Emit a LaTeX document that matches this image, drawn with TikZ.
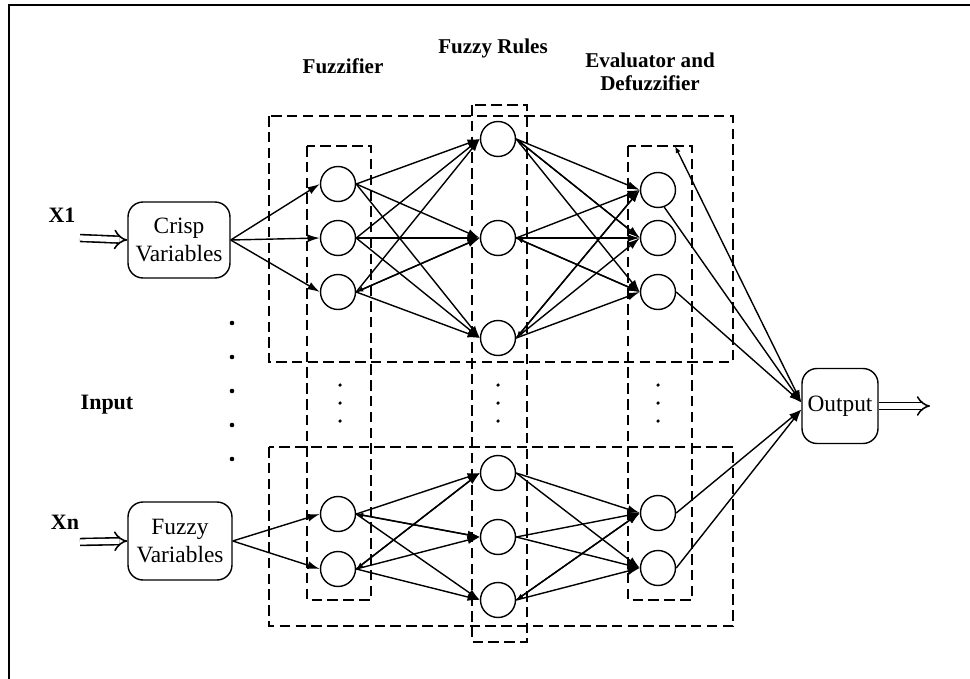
\documentclass[tikz,border=0pt]{standalone}
\usepackage{fontspec}
\setmainfont{Liberation Serif}
\usetikzlibrary{arrows.meta}
\begin{document}
\begin{tikzpicture}[x=0.02cm,y=-0.02cm]
	% Styles du réseau
	\tikzset{
		neurone/.style={circle, draw, line width=0.8pt, minimum size=0.7cm, inner sep=0pt},
		boite/.style={draw, line width=0.8pt, rounded corners=0.3cm, align=center, inner sep=0pt, font=\fontsize{13.3}{16}\selectfont},
		couche/.style={line width=1pt, dash pattern=on 6pt off 3pt},
		lien/.style={line width=0.8pt, -{Latex[length=7pt,width=4.5pt]}},
		lien2/.style={line width=0.8pt, {Latex[length=4pt,width=3pt]}-{Latex[length=7pt,width=4.5pt]}},
		entree/.style={double, double distance=3pt, line width=0.9pt, -{Implies}},
		titre/.style={align=center, font=\fontsize{12}{13}\selectfont\bfseries},
		etiq/.style={font=\fontsize{12.5}{15}\selectfont\bfseries}
	}
	\useasboundingbox (0,0) rectangle (970,679);
	\draw[line width=1.5pt] (9,679) -- (9,5) -- (970,5);
	% Couches en pointillés
	\draw[couche] (269,116) rectangle (733,362);
	\draw[couche] (269,447) rectangle (733,626);
	\draw[couche] (307,146) rectangle (371,600);
	\draw[couche] (472,105) rectangle (527,642);
	\draw[couche] (628,146) rectangle (692,600);
	% Titres
	\node[titre] (tfuzz) at (343,66) {Fuzzifier};
	\node[titre] (trules) at (493,48) {Fuzzy Rules};
	\node[titre] (teval) at (650,72) {Evaluator and\\Defuzzifier};
	% Entrées et sortie
	\node[boite, minimum width=2.04cm, minimum height=1.52cm] (crisp) at (179,240) {Crisp\\Variables};
	\node[boite, minimum width=2.08cm, minimum height=1.56cm] (fuzzy) at (180,541) {Fuzzy\\Variables};
	\node[boite, minimum width=1.52cm, minimum height=1.5cm] (sortie) at (840,406) {Output};
	\node[etiq] (lx1) at (62,215) {X1};
	\node[etiq] (lxn) at (65,522) {Xn};
	\node[etiq] (input) at (107,405) {Input};
	\coordinate (x1) at (80,238);
	\coordinate (xn) at (80,542);
	\coordinate (fin) at (930,406);
	\coordinate (haut) at (675,146);
	% Neurones
	\node[neurone] (f1) at (338,184) {};
	\node[neurone] (f2) at (338,238) {};
	\node[neurone] (f3) at (338,292) {};
	\node[neurone] (f4) at (338,514) {};
	\node[neurone] (f5) at (338,569) {};
	\node[neurone] (r1) at (498,139) {};
	\node[neurone] (r2) at (498,238) {};
	\node[neurone] (r3) at (498,338) {};
	\node[neurone] (r4) at (498,473) {};
	\node[neurone] (r5) at (498,537) {};
	\node[neurone] (r6) at (498,600) {};
	\node[neurone] (e1) at (658,190) {};
	\node[neurone] (e2) at (658,238) {};
	\node[neurone] (e3) at (658,292) {};
	\node[neurone] (e4) at (658,513) {};
	\node[neurone] (e5) at (658,568) {};
	% Points de suspension
	\foreach \y in {323,357,391,425,459} \fill (232,\y) circle (1.3pt);
	\foreach \x in {340,498,658}
		\foreach \y in {385,403,421} \fill (\x,\y) circle (1pt);
	% Connexions
	\draw[entree] (x1) -- (crisp.west);
	\draw[entree] (xn) -- (fuzzy.west);
	\draw[entree] (sortie.east) -- (fin);
	\foreach \a in {1,2,3}{
		\draw[lien] (crisp.east) -- (f\a.west);
		\foreach \b in {1,2,3}{
			\draw[lien] (f\a.east) -- (r\b.west);
			\draw[lien] (r\a.east) -- (e\b.west);
		}
	}
	\foreach \a in {4,5}{
		\draw[lien] (fuzzy.east) -- (f\a.west);
		\foreach \b in {4,5,6}{
			\draw[lien] (f\a.east) -- (r\b.west);
			\draw[lien] (r\b.east) -- (e\a.west);
		}
	}
	\draw[lien2] (f3.east) -- (r2.west);
	\draw[lien2] (f4.east) -- (r5.west);
	\draw[lien2] (f5.east) -- (r4.west);
	\draw[lien2] (r1.east) -- (e2.west);
	\draw[lien2] (r2.east) -- (e3.west);
	\draw[lien2] (r3.east) -- (e1.west);
	\draw[lien2] (r6.east) -- (e4.west);
	\draw[lien] (e1.-70) -- ([yshift=2pt]sortie.west);
	\draw[lien] (e3.east) -- ([yshift=2pt]sortie.west);
	\draw[lien2] (haut) -- ([yshift=2pt]sortie.west);
	\draw[lien] (e4.east) -- ([yshift=-2pt]sortie.west);
	\draw[lien] (e5.east) -- ([yshift=-2pt]sortie.west);
\end{tikzpicture}
\end{document}
